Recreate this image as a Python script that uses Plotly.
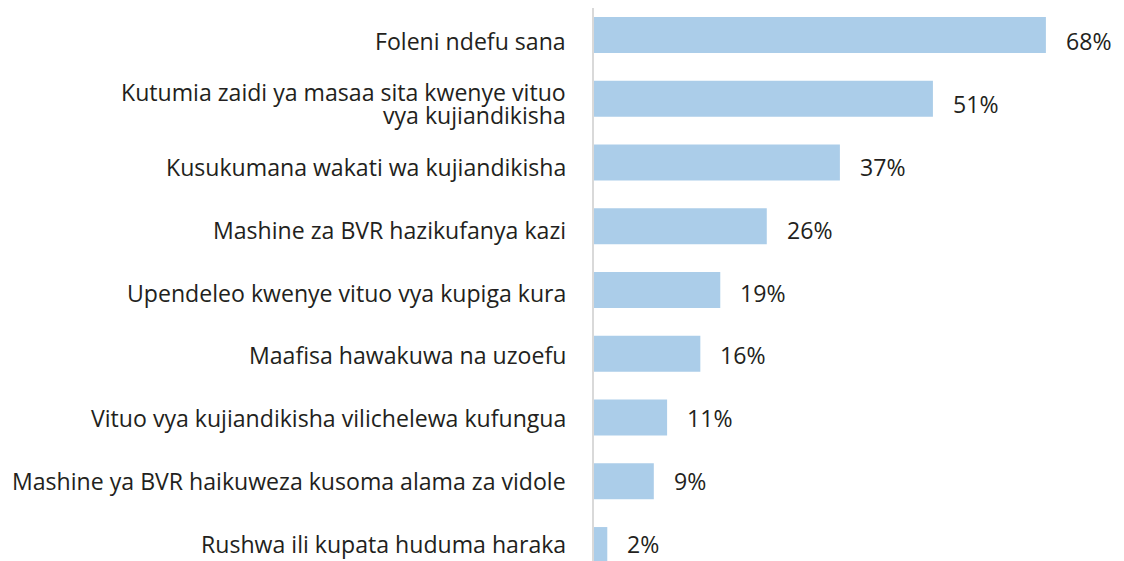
import plotly.graph_objects as go

categories = [
    "Foleni ndefu sana",
    "Kutumia zaidi ya masaa sita kwenye vituo<br>vya kujiandikisha",
    "Kusukumana wakati wa kujiandikisha",
    "Mashine za BVR hazikufanya kazi",
    "Upendeleo kwenye vituo vya kupiga kura",
    "Maafisa hawakuwa na uzoefu",
    "Vituo vya kujiandikisha vilichelewa kufungua",
    "Mashine ya BVR haikuweza kusoma alama za vidole",
    "Rushwa ili kupata huduma haraka",
]
values = [68, 51, 37, 26, 19, 16, 11, 9, 2]
value_labels = [f"{v}%" for v in values]

BAR_COLOR = "#abcde9"
TEXT_COLOR = "#231f20"
FONT = "'Open Sans', Lato, sans-serif"
FONT_SIZE = 23.1
LINE_STEP = 23  # tight line spacing for wrapped labels
# text rows are spaced a touch tighter than the bars: drop from top to bottom
DROP_TOP, DROP_BOTTOM = 6, -1


def text_drop(i, n):
    return DROP_TOP + (DROP_BOTTOM - DROP_TOP) * i / (n - 1)


# the page body adds an 8px margin, so the figure is sized to fit the window
fig = go.Figure()

fig.add_trace(
    go.Bar(
        x=values,
        y=categories,
        orientation="h",
        marker=dict(color=BAR_COLOR, line=dict(width=0)),
        width=0.565,
        hoverinfo="skip",
    )
)

n_cat = len(categories)

# category labels, one annotation per line so the wrap spacing can be set
for k, cat in enumerate(categories):
    lines = cat.split("<br>")
    n = len(lines)
    for i, line in enumerate(lines):
        fig.add_annotation(
            x=0,
            y=cat,
            text=line,
            showarrow=False,
            xanchor="right",
            yanchor="middle",
            xshift=-26,
            yshift=-text_drop(k, n_cat) - (i - (n - 1) / 2) * LINE_STEP,
            font=dict(family=FONT, size=FONT_SIZE, color=TEXT_COLOR),
        )

# value labels to the right of each bar
for k, (cat, v, lab) in enumerate(zip(categories, values, value_labels)):
    fig.add_annotation(
        x=v,
        y=cat,
        text=lab,
        showarrow=False,
        xanchor="left",
        yanchor="middle",
        xshift=18,
        yshift=-text_drop(k, n_cat),
        font=dict(family=FONT, size=FONT_SIZE, color=TEXT_COLOR),
    )

fig.update_layout(
    width=1116,
    height=553,
    margin=dict(l=586, r=5, t=0, b=0),
    paper_bgcolor="white",
    plot_bgcolor="white",
    showlegend=False,
    font=dict(family=FONT, size=FONT_SIZE, color=TEXT_COLOR),
)

fig.update_xaxes(
    range=[0, 79],
    showgrid=False,
    zeroline=False,
    showticklabels=False,
    showline=False,
    fixedrange=True,
)

fig.update_yaxes(
    range=[8.25, -0.424],
    showgrid=False,
    zeroline=False,
    showline=True,
    linecolor="#d9d9d9",
    linewidth=2,
    ticks="",
    showticklabels=False,
    fixedrange=True,
)

fig.write_html("out.html")
